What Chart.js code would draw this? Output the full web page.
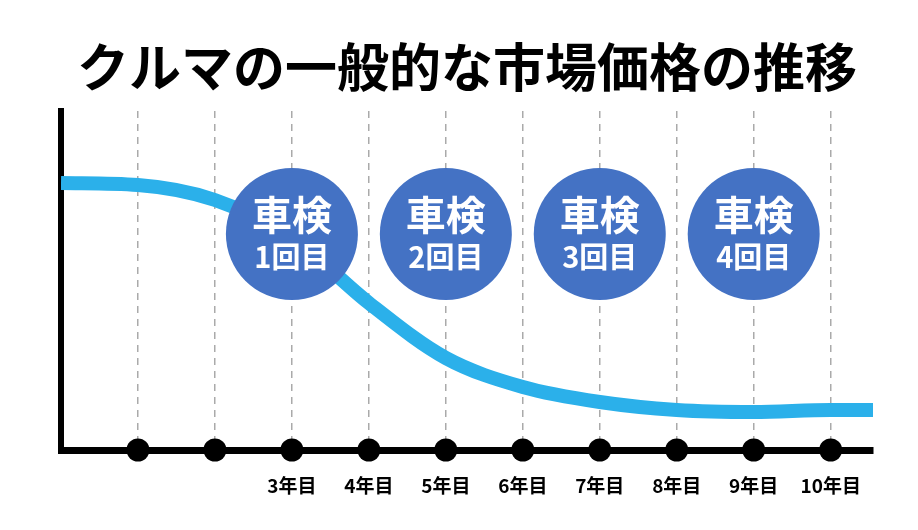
<!DOCTYPE html>
<html>
<head>
<meta charset="utf-8">
<script src="https://cdn.jsdelivr.net/npm/chart.js@4"></script>
<style>
  html, body { margin: 0; padding: 0; background: #fff; }
  #wrap { width: 918px; height: 530px; }
</style>
</head>
<body>
<div id="wrap"><canvas id="chartPrecio"></canvas></div>
<script>
// Datos
const yearTicks = [1, 2, 3, 4, 5, 6, 7, 8, 9, 10];
const tickLabels = ['', '', '3年目', '4年目', '5年目', '6年目', '7年目', '8年目', '9年目', '10年目'];
const priceYears = [0, 1, 2, 3, 4, 5, 6, 7, 8, 9, 10, 10.55];
const priceValues = [267, 265, 250, 212, 147, 92, 63, 48, 40, 38, 40, 40];
const inspectionYears = [3, 5, 7, 9];
const inspectionLabels = ['1回目', '2回目', '3回目', '4回目'];
const inspectionLevel = 216;

const FONT = "'Noto Sans CJK JP', 'Noto Sans', sans-serif";

// Texto dentro de los círculos
const circleText = {
    id: 'circleText',
    afterDatasetsDraw(chart) {
        const ctx = chart.ctx;
        const meta = chart.getDatasetMeta(0);
        ctx.save();
        ctx.fillStyle = '#fff';
        ctx.textAlign = 'center';
        ctx.textBaseline = 'middle';
        meta.data.forEach((pt, i) => {
            ctx.font = 'bold 40px ' + FONT;
            ctx.fillText('車検', pt.x, pt.y - 19);
            ctx.font = 'bold 29px ' + FONT;
            ctx.fillText(inspectionLabels[i], pt.x, pt.y + 23);
        });
        ctx.restore();
    }
};

document.addEventListener("DOMContentLoaded", function() {
    const ctx = document.getElementById('chartPrecio').getContext('2d');
    new Chart(ctx, {
        type: 'scatter',
        data: {
            datasets: [
                { data: inspectionYears.map(x => ({ x: x, y: inspectionLevel })), backgroundColor: '#4472c4', borderWidth: 0, pointRadius: 66, pointHoverRadius: 66, clip: false, order: 0 },
                { data: priceYears.map((x, i) => ({ x: x, y: priceValues[i] })), showLine: true, borderColor: '#2bb0ea', borderWidth: 14, pointRadius: 0, cubicInterpolationMode: 'monotone', borderCapStyle: 'butt', order: 1 },
                { data: yearTicks.map(x => ({ x: x, y: 0 })), backgroundColor: '#000', borderWidth: 0, pointRadius: 11.5, pointHoverRadius: 11.5, clip: false, order: 2 }
            ]
        },
        options: {
            responsive: true, maintainAspectRatio: false, animation: false,
            layout: { autoPadding: false, padding: { left: 61, right: 45, top: 0, bottom: 9.2 } },
            plugins: {
                legend: { display: false }, tooltip: { enabled: false },
                title: { display: true, text: 'クルマの一般的な市場価格の推移', color: '#000', font: { family: FONT, size: 52, weight: 'bold', lineHeight: 1.2 }, padding: { top: 36, bottom: 12.6 } }
            },
            scales: {
                x: {
                    type: 'linear', min: 0, max: 10.55,
                    afterBuildTicks: s => { s.ticks = yearTicks.map(v => ({ value: v })); },
                    grid: { color: '#aaa', lineWidth: 1.5, drawTicks: false },
                    border: { color: '#000', width: 7, dash: [7, 6] },
                    ticks: { color: '#000', padding: 24, maxRotation: 0, autoSkip: false, font: { family: FONT, size: 19, weight: 'bold' }, callback: v => tickLabels[yearTicks.indexOf(v)] }
                },
                y: {
                    min: 0, max: 339,
                    grid: { display: false, drawTicks: false },
                    border: { color: '#000', width: 6 },
                    ticks: { display: false }
                }
            }
        },
        plugins: [circleText]
    });
});
</script>
</body>
</html>
